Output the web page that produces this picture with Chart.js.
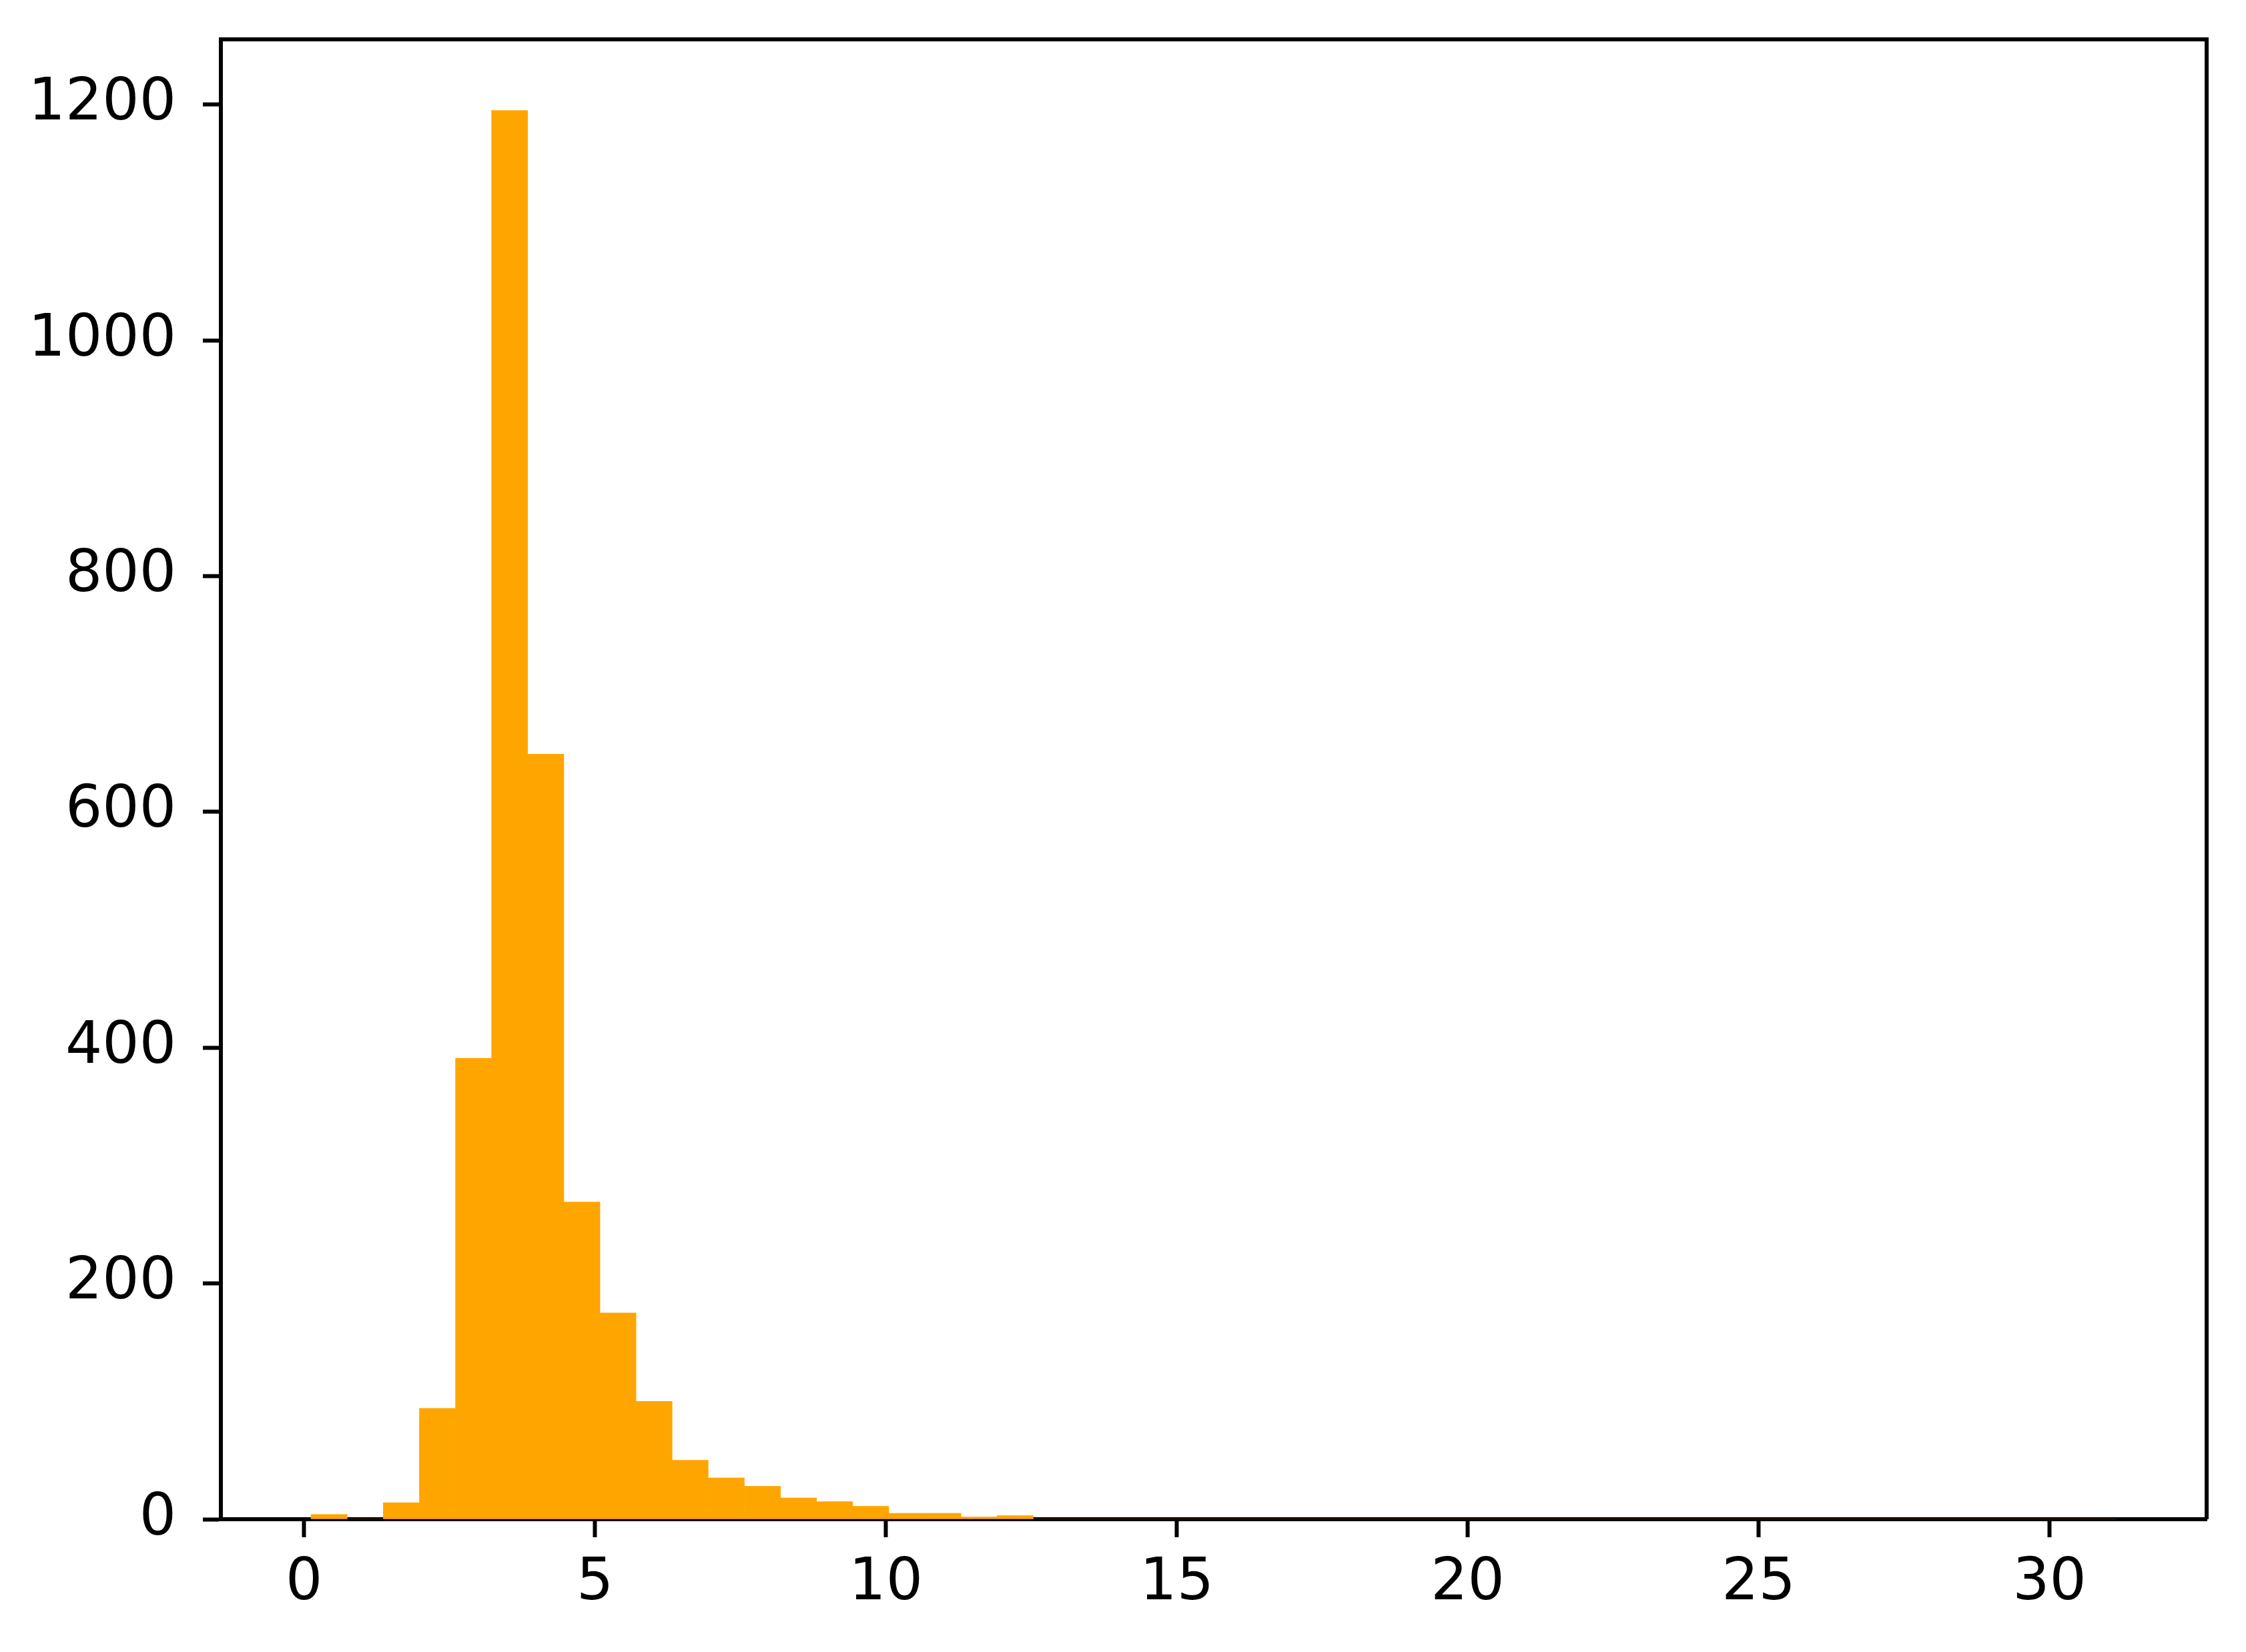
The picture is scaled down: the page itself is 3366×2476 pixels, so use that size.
<!DOCTYPE html>
<html>
<head>
<meta charset="utf-8">
<script src="https://cdn.jsdelivr.net/npm/chart.js@4/dist/chart.umd.min.js"></script>
<style>
  html, body { margin: 0; padding: 0; background: #fff; }
  #wrap { width: 3366px; height: 2476px; }
</style>
</head>
<body>
<div id="wrap"><canvas id="hist"></canvas></div>
<script>
// histogram bins (centres) and counts
const binCenters = [
  0.430, 1.051, 1.672, 2.292, 2.913, 3.533, 4.154, 4.775, 5.395, 6.016,
  6.636, 7.257, 7.878, 8.498, 9.119, 9.739, 10.360, 10.981, 11.601, 12.222,
  12.842, 13.463, 14.083, 14.704, 15.325, 15.945, 16.566, 17.186, 17.807, 18.428,
  19.048, 19.669, 20.289, 20.910, 21.531, 22.151, 22.772, 23.392, 24.013, 24.634,
  25.254, 25.875, 26.495, 27.116, 27.737, 28.357, 28.978, 29.598, 30.219, 30.840
];
const binCounts = [
  4, 0, 14, 94, 391, 1195, 649, 269, 175, 100,
  50, 35, 28, 18, 15, 11, 5, 5, 2, 3,
  0, 0, 0, 0, 0, 0, 0, 0, 0, 0,
  0, 0, 0, 0, 0, 0, 0, 0, 0, 0,
  0, 0, 0, 0, 0, 0, 0, 0, 0, 0
];
const xTickValues = [0, 5, 10, 15, 20, 25, 30];
const yTickValues = [0, 200, 400, 600, 800, 1000, 1200];

const FONT = { family: 'DejaVu Sans', size: 87 };

// top + right spines, drawn like the matplotlib frame
const framePlugin = {
  id: 'frame',
  afterDraw(chart) {
    const { ctx, chartArea: a } = chart;
    ctx.save();
    ctx.strokeStyle = '#000';
    ctx.lineWidth = 6;
    ctx.beginPath();
    ctx.moveTo(a.left, a.top);
    ctx.lineTo(a.right, a.top);
    ctx.lineTo(a.right, a.bottom);
    ctx.stroke();
    ctx.restore();
  }
};

window.addEventListener('DOMContentLoaded', () => {
  const ctx = document.getElementById('hist').getContext('2d');
  new Chart(ctx, {
    type: 'bar',
    data: {
      datasets: [{
        data: binCenters.map((c, i) => ({ x: c, y: binCounts[i] })),
        backgroundColor: '#ffa500',
        borderWidth: 0,
        barPercentage: 1,
        categoryPercentage: 1
      }]
    },
    options: {
      responsive: true,
      maintainAspectRatio: false,
      animation: false,
      devicePixelRatio: 1,
      layout: { padding: { top: 59, right: 59, left: 0, bottom: 0 } },
      plugins: { legend: { display: false }, tooltip: { enabled: false } },
      scales: {
        x: {
          type: 'linear',
          min: -1.43,
          max: 32.70,
          offset: false,
          z: 1,
          afterBuildTicks: (s) => { s.ticks = xTickValues.map(v => ({ value: v })); },
          afterFit: (s) => { s.height = 199; s.paddingLeft = 0; s.paddingRight = 0; },
          border: { color: '#000', width: 6 },
          grid: { offset: false, drawOnChartArea: false, drawTicks: true, tickLength: 27, tickWidth: 6, tickColor: '#000' },
          ticks: { color: '#000', font: FONT, padding: 18, maxRotation: 0, autoSkip: false,
                   callback: (v) => String(v) }
        },
        y: {
          type: 'linear',
          min: 0,
          max: 1255.3,
          z: 1,
          afterBuildTicks: (s) => { s.ticks = yTickValues.map(v => ({ value: v })); },
          afterFit: (s) => { s.width = 331; s.paddingTop = 0; s.paddingBottom = 0; },
          border: { color: '#000', width: 6 },
          grid: { drawOnChartArea: false, drawTicks: true, tickLength: 27, tickWidth: 6, tickColor: '#000' },
          ticks: { color: '#000', font: FONT, padding: 40, autoSkip: false,
                   callback: (v) => String(v) }
        }
      }
    },
    plugins: [framePlugin]
  });
});
</script>
</body>
</html>
